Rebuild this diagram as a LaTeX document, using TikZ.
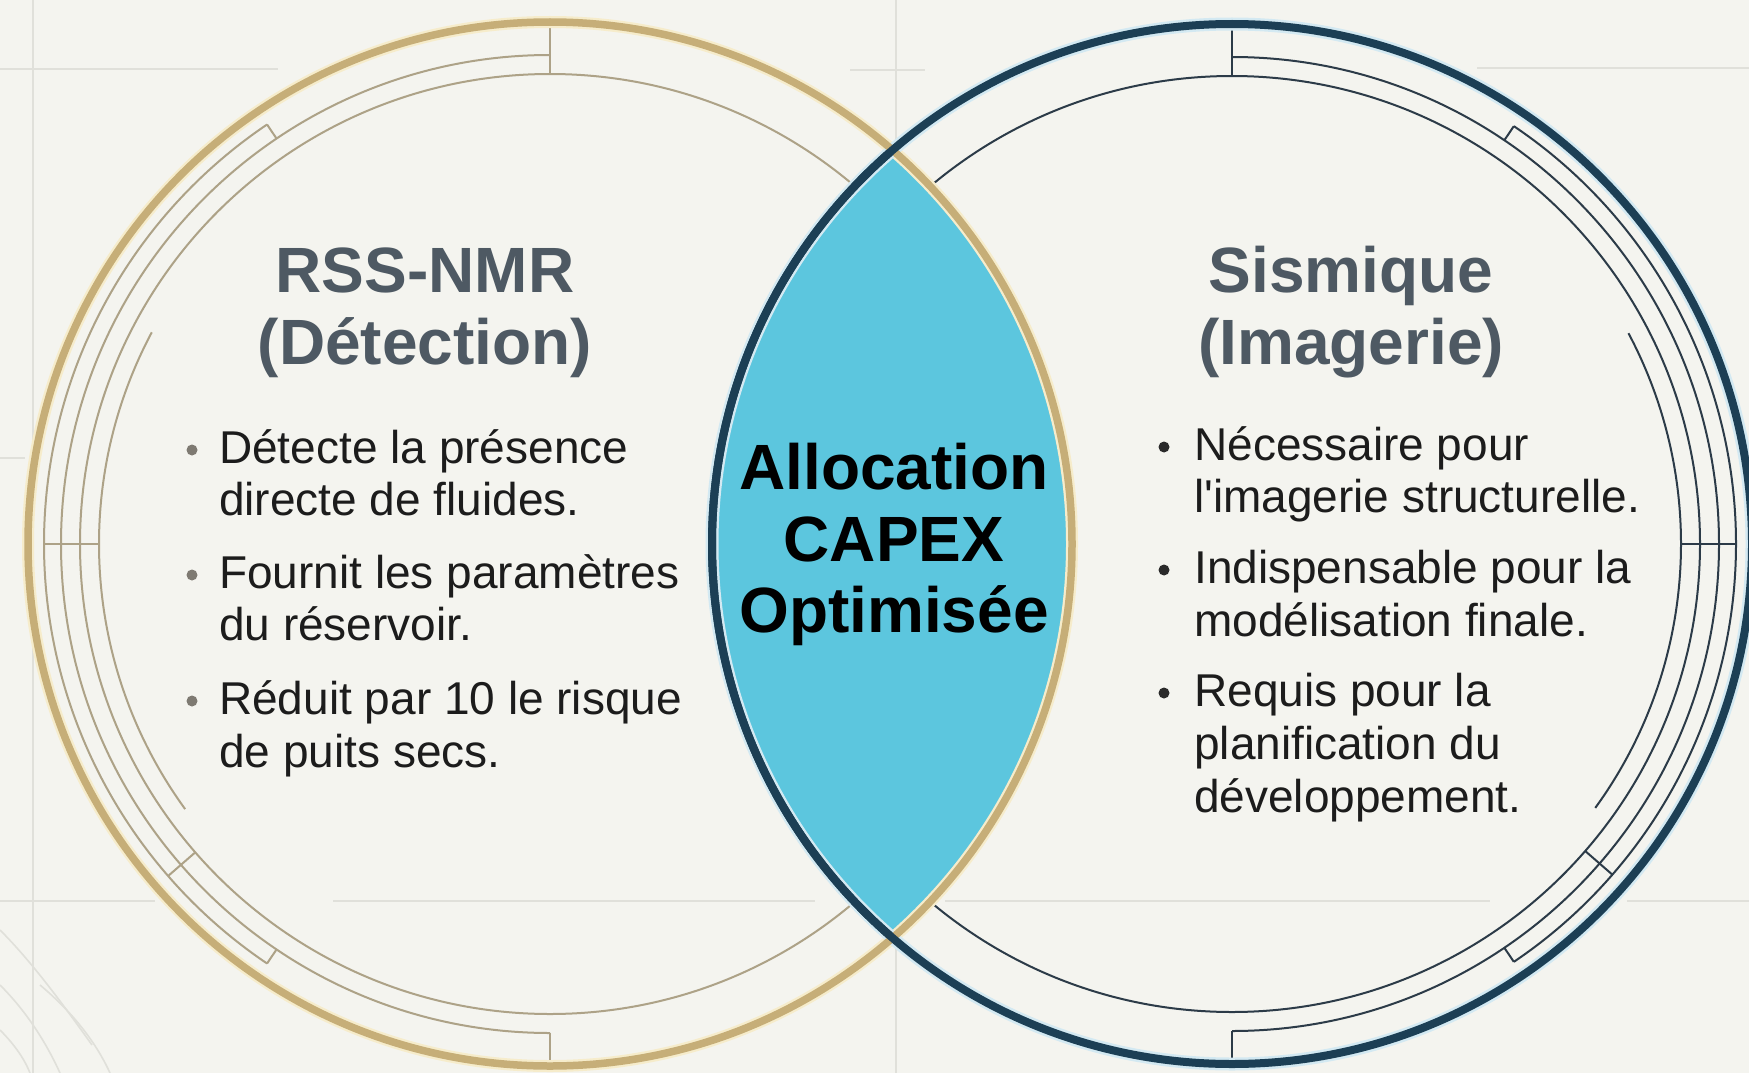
\documentclass[tikz,border=0pt]{standalone}
\usepackage{fontspec}
\setmainfont{Liberation Sans}[Ligatures=TeXOff]
\definecolor{bg}{HTML}{F4F4EF}
\definecolor{gridc}{HTML}{E0E0DA}
\definecolor{goldc}{HTML}{C6AE78}
\definecolor{goldthin}{HTML}{ADA287}
\definecolor{goldhalo}{HTML}{F6ECCB}
\definecolor{navyc}{HTML}{1C3F55}
\definecolor{navythin}{HTML}{2C3B48}
\definecolor{navyhalo}{HTML}{D3E9F2}
\definecolor{lensc}{HTML}{5CC6DE}
\definecolor{headc}{HTML}{4E5963}
\definecolor{bodyc}{HTML}{1C1C1C}
\definecolor{bulL}{HTML}{7E7A72}
\definecolor{bulR}{HTML}{2A2A2A}
\newcommand{\ringdeco}[1]{%
  \draw (0,0) circle[radius={#1-52}];
  \draw (90:{#1-33}) arc[start angle=90,end angle=-90,radius={#1-33}];
  \draw (56:{#1-16}) arc[start angle=56,end angle=-56,radius={#1-16}];
  \draw (28:{#1-71}) arc[start angle=28,end angle=-36,radius={#1-71}];
  \draw (90:{#1-52}) -- (90:{#1});
  \draw (-90:{#1-33}) -- (-90:{#1});
  \draw (56:{#1-33}) -- (56:{#1-16});
  \draw (-56:{#1-33}) -- (-56:{#1-16});
  \draw (-41:{#1-52}) -- (-41:{#1-16});
  \draw (0:{#1-71}) -- (0:{#1-16});
}
\tikzset{
  gridline/.style={draw=gridc, line width=2pt},
  topo/.style={draw=gridc, line width=1.6pt},
  headtxt/.style={font={\fontsize{64}{70}\selectfont\bfseries}, text=headc, inner sep=0pt, anchor=base},
  centertxt/.style={font={\fontsize{64}{70}\selectfont\bfseries}, text=black, inner sep=0pt, anchor=base},
  bodytxt/.style={font={\fontsize{46}{52}\selectfont}, text=bodyc, inner sep=0pt, anchor=base west},
}
\begin{document}
\begin{tikzpicture}[x=1pt,y=-1pt]
\useasboundingbox (0,0) rectangle (1749,1073);
\fill[bg] (0,0) rectangle (1749,1073);

% background grid
\draw[gridline] (0,69) -- (278,69);
\draw[gridline] (850,70) -- (925,70);
\draw[gridline] (1477,68) -- (1749,68);
\draw[gridline] (33,0) -- (33,1073);
\draw[gridline] (896,0) -- (896,140);
\draw[gridline] (896,948) -- (896,1073);
\draw[gridline] (0,458) -- (25,458);
\draw[gridline] (0,901) -- (155,901);
\draw[gridline] (333,901) -- (815,901);
\draw[gridline] (945,901) -- (1490,901);
\draw[gridline] (1627,901) -- (1749,901);
% faint contour curves
\draw[topo] (0,930) .. controls (30,960) and (60,1000) .. (92,1045);
\draw[topo] (0,985) .. controls (25,1010) and (45,1040) .. (60,1073);
\draw[topo] (0,1030) .. controls (15,1045) and (25,1060) .. (30,1073);
\draw[topo] (40,985) .. controls (70,1010) and (95,1040) .. (110,1073);

% coordinates
\coordinate (C1) at (550,544);
\coordinate (C2) at (1232,544);

% thin decorative rings
\begin{scope}[shift={(C1)}, xscale=-1, yscale=-1, draw=goldthin, line width=2pt]
  \ringdeco{522}
\end{scope}
\begin{scope}[shift={(C2)}, yscale=-1, draw=navythin, line width=2pt]
  \ringdeco{520}
\end{scope}

% lens
\begin{scope}
  \clip (C1) circle[radius=522];
  \fill[lensc] (C2) circle[radius=520];
\end{scope}

% thick rings
\draw[goldhalo, line width=12pt] (C1) circle[radius=522];
\draw[navyhalo, line width=13pt] (C2) circle[radius=520];
\draw[goldc, line width=7.5pt] (C1) circle[radius=522];
\draw[navyc, line width=8pt] (C2) circle[radius=520];
\begin{scope}
  \clip (C1) circle[radius=518];
  \draw[navyc, line width=8pt] (C2) circle[radius=520];
\end{scope}

% headings
\node[headtxt] (h1a) at (425,292) {RSS-NMR};
\node[headtxt] (h1b) at (425,364) {(Détection)};
\node[headtxt] (h2a) at (1351,292) {Sismique};
\node[headtxt] (h2b) at (1351,364) {(Imagerie)};

% center
\node[centertxt] (c1) at (894,489) {Allocation};
\node[centertxt] (c2) at (894,561) {CAPEX};
\node[centertxt] (c3) at (894,632) {Optimisée};

% left bullets
\fill[bulL] (192,450) circle[radius=5.5];
\fill[bulL] (192,575) circle[radius=5.5];
\fill[bulL] (192,701) circle[radius=5.5];
\node[bodytxt] (l1) at (219,463) {Détecte la présence};
\node[bodytxt] (l2) at (219,515) {directe de fluides.};
\node[bodytxt] (l3) at (219,588) {Fournit les paramètres};
\node[bodytxt] (l4) at (219,640) {du réservoir.};
\node[bodytxt] (l5) at (219,714) {Réduit par 10 le risque};
\node[bodytxt] (l6) at (219,767) {de puits secs.};

% right bullets
\fill[bulR] (1164,447) circle[radius=5.5];
\fill[bulR] (1164,570) circle[radius=5.5];
\fill[bulR] (1164,693) circle[radius=5.5];
\node[bodytxt] (r1) at (1194,460) {Nécessaire pour};
\node[bodytxt] (r2) at (1194,512) {l'imagerie structurelle.};
\node[bodytxt] (r3) at (1194,583) {Indispensable pour la};
\node[bodytxt] (r4) at (1194,636) {modélisation finale.};
\node[bodytxt] (r5) at (1194,706) {Requis pour la};
\node[bodytxt] (r6) at (1194,759) {planification du};
\node[bodytxt] (r7) at (1194,812) {développement.};
\end{tikzpicture}
\end{document}
